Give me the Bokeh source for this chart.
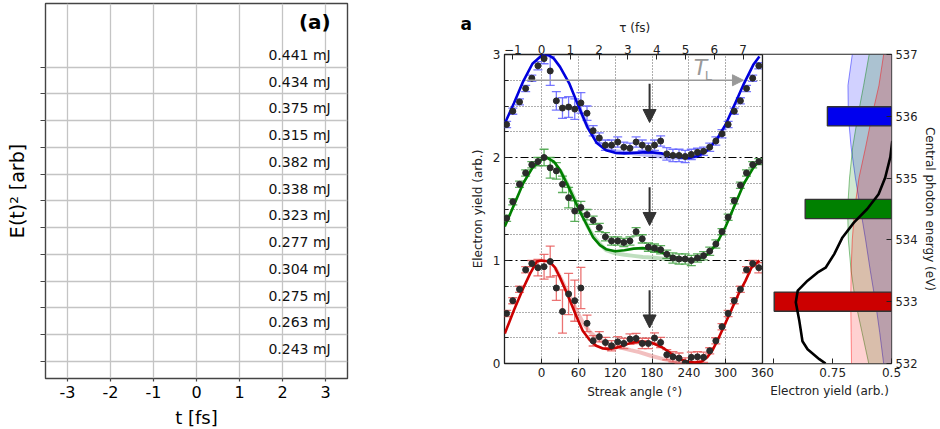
from bokeh.plotting import figure
from bokeh.layouts import row, column
from bokeh.models import (Range1d, LinearAxis, FixedTicker, Label, Arrow, NormalHead,
                          Span, ColumnDataSource, Grid)
from bokeh.core.properties import value
from bokeh.embed import file_html
from bokeh.resources import INLINE

FONT = "DejaVu Sans"

# ---------------- panel (a) data ----------------
t_ticks = [-3, -2, -1, 0, 1, 2, 3]
t_tick_labels = ["-3", "-2", "-1", "0", "1", "2", "3"]
pulse_energies = ["0.441 mJ", "0.434 mJ", "0.375 mJ", "0.315 mJ", "0.382 mJ", "0.338 mJ",
                  "0.323 mJ", "0.277 mJ", "0.304 mJ", "0.275 mJ", "0.263 mJ", "0.243 mJ"]
trace_offsets = [11, 10, 9, 8, 7, 6, 5, 4, 3, 2, 1, 0]

# ---------------- streaking panel data ----------------
angle_ticks = [0, 60, 120, 180, 240, 300, 360]
tau_ticks = [-1, 0, 1, 2, 3, 4, 5, 6, 7]
tau_tick_labels = ["\u22121", "0", "1", "2", "3", "4", "5", "6", "7"]
T_L = 7.676  # fs per 360 degrees
yield_ticks = [0.60, 0.75, 0.90]
yield_tick_labels = ["", "0.75", "0.5"]
energy_ticks = [532, 533, 534, 535, 536, 537]

ang = [-57, -47, -36, -26, -16, -6, 4, 14, 24, 34, 44, 54, 64, 74, 84, 94, 104, 114, 124, 134, 144,
       154, 164, 174, 184, 194, 204, 214, 224, 234, 244, 254, 264, 274, 284, 294, 304, 314, 324, 334, 344, 354]

blue_y = [2.32, 2.45, 2.54, 2.67, 2.77, 2.89, 2.96, 2.84, 2.55, 2.48, 2.49, 2.47, 2.53, 2.43, 2.26, 2.19,
          2.12, 2.12, 2.15, 2.10, 2.09, 2.15, 2.12, 2.09, 2.12, 2.16, 2.035, 2.02, 2.02, 2.01, 2.03, 2.05,
          2.06, 2.10, 2.16, 2.23, 2.32, 2.45, 2.55, 2.67, 2.77, 2.89]
blue_err = [0.03, 0.03, 0.03, 0.03, 0.03, 0.04, 0.05, 0.14, 0.09, 0.10, 0.10, 0.10, 0.10, 0.07, 0.05, 0.05,
            0.05, 0.05, 0.05, 0.05, 0.05, 0.05, 0.05, 0.05, 0.05, 0.05, 0.06, 0.06, 0.06, 0.06, 0.05, 0.04,
            0.04, 0.04, 0.04, 0.04, 0.03, 0.03, 0.03, 0.03, 0.03, 0.03]
green_y = [1.41, 1.57, 1.74, 1.85, 1.93, 1.96, 2.00, 1.90, 1.87, 1.74, 1.61, 1.48, 1.515, 1.445, 1.39, 1.32,
           1.23, 1.19, 1.19, 1.175, 1.19, 1.28, 1.21, 1.13, 1.12, 1.105, 1.06, 1.025, 1.015, 1.015, 1.00,
           1.025, 1.047, 1.09, 1.16, 1.28, 1.42, 1.58, 1.73, 1.85, 1.93, 1.96]
green_err = [0.03, 0.03, 0.03, 0.03, 0.03, 0.04, 0.08, 0.10, 0.08, 0.08, 0.10, 0.10, 0.06, 0.05, 0.04, 0.04,
             0.04, 0.04, 0.04, 0.04, 0.04, 0.04, 0.04, 0.04, 0.04, 0.04, 0.04, 0.05, 0.05, 0.05, 0.05, 0.04,
             0.04, 0.04, 0.04, 0.03, 0.03, 0.03, 0.03, 0.03, 0.03, 0.03]
red_y = [0.486, 0.61, 0.72, 0.91, 0.97, 0.93, 0.94, 0.99, 0.733, 0.505, 0.675, 0.61, 0.733, 0.39, 0.22, 0.26,
         0.204, 0.172, 0.21, 0.195, 0.237, 0.243, 0.195, 0.195, 0.247, 0.204, 0.085, 0.065, 0.052, 0.005,
         0.06, 0.065, 0.06, 0.123, 0.22, 0.357, 0.486, 0.61, 0.72, 0.91, 0.97, 0.93]
red_err = [0.03, 0.03, 0.03, 0.03, 0.03, 0.08, 0.12, 0.15, 0.12, 0.21, 0.20, 0.20, 0.20, 0.08, 0.05, 0.05,
           0.05, 0.05, 0.05, 0.05, 0.05, 0.05, 0.05, 0.05, 0.05, 0.05, 0.05, 0.05, 0.05, 0.05, 0.05, 0.05,
           0.05, 0.03, 0.03, 0.03, 0.03, 0.03, 0.03, 0.03, 0.03, 0.05]

blue_model_ang = [-60, -45, -30, -15, 0, 10, 20, 30, 45, 60, 75, 90, 105, 120, 135, 150, 165, 180, 195, 210,
                  225, 240, 255, 270, 285, 300, 315, 330, 345, 355]
blue_model_y = [2.33, 2.53, 2.74, 2.91, 2.99, 3.00, 2.96, 2.88, 2.72, 2.50, 2.29, 2.14, 2.07, 2.045, 2.04,
                2.045, 2.05, 2.05, 2.04, 2.02, 2.0, 1.995, 2.015, 2.07, 2.17, 2.32, 2.52, 2.72, 2.90, 2.98]
blue_faint_ang = [60, 75, 90, 105, 120, 135, 150, 165, 180, 195, 210, 225, 240, 255, 270]
blue_faint_y = [2.50, 2.30, 2.16, 2.09, 2.06, 2.05, 2.04, 2.03, 2.02, 2.01, 2.0, 1.995, 1.995, 2.015, 2.07]

green_model_ang = [-60, -45, -30, -15, 0, 8, 20, 30, 45, 62, 75, 84, 95, 105, 120, 135, 150, 165, 180, 195,
                   210, 225, 245, 258, 270, 285, 300, 315, 330, 345, 355]
green_model_y = [1.33, 1.54, 1.75, 1.90, 1.98, 2.00, 1.96, 1.88, 1.70, 1.48, 1.33, 1.225, 1.15, 1.11, 1.09,
                 1.10, 1.115, 1.12, 1.11, 1.08, 1.045, 1.02, 1.005, 1.02, 1.06, 1.16, 1.33, 1.54, 1.75, 1.90, 1.97]
green_faint_ang = [30, 45, 62, 75, 84, 95, 105, 120, 135, 150, 165, 180, 195, 210, 225, 245, 258]
green_faint_y = [1.88, 1.71, 1.50, 1.33, 1.24, 1.16, 1.10, 1.07, 1.055, 1.045, 1.035, 1.03, 1.02, 1.01, 1.005,
                 1.0, 1.02]

red_model_ang = [-60, -45, -30, -19, -8, 0, 13, 22, 30, 40, 48.5, 58, 67, 78, 89, 100, 110, 121, 132, 145,
                 159, 170, 178, 188, 197, 208, 218, 229, 240, 250, 261, 270, 278, 288, 299, 310, 321, 332, 342, 355]
red_model_y = [0.29, 0.52, 0.73, 0.87, 0.99, 1.0, 0.99, 0.93, 0.835, 0.70, 0.577, 0.44, 0.318, 0.23, 0.172,
               0.145, 0.14, 0.15, 0.172, 0.20, 0.214, 0.21, 0.204, 0.18, 0.155, 0.11, 0.065, 0.035, 0.017,
               0.01, 0.02, 0.06, 0.123, 0.24, 0.383, 0.53, 0.675, 0.80, 0.93, 1.0]
red_faint_ang = [22, 30, 40, 48.5, 58, 67, 78, 89, 100, 110, 121, 132, 145, 159, 178, 197, 218, 240, 250, 261]
red_faint_y = [0.93, 0.84, 0.72, 0.62, 0.50, 0.40, 0.31, 0.25, 0.21, 0.185, 0.165, 0.15, 0.13, 0.11, 0.075,
               0.045, 0.02, 0.01, 0.01, 0.02]

# downward arrows (angle, top, bottom)
arrow_ang = [176, 176, 176]
arrow_top = [2.715, 1.71, 0.71]
arrow_bottom = [2.34, 1.34, 0.345]

# right panel: central photon energy vs electron yield
bar_energy = [536.0, 534.5, 533.0]
bar_yield = [0.7366, 0.680, 0.601]
bar_colors = ["#0000ee", "#008000", "#cc0000"]

band_E = [537, 536.5, 536, 535.5, 535, 534.5, 534, 533.5, 533, 532.5, 532]
band_blue = [0.800, 0.789, 0.790, 0.797, 0.808, 0.821, 0.834, 0.846, 0.859, 0.870, 0.880]
band_green = [0.843, 0.829, 0.814, 0.801, 0.793, 0.788, 0.790, 0.797, 0.808, 0.825, 0.842]
band_red = [0.880, 0.868, 0.850, 0.834, 0.817, 0.806, 0.800, 0.797, 0.796, 0.797, 0.798]

curve_E = [532.0, 532.07, 532.23, 532.36, 532.69, 532.99, 533.18, 533.34, 533.47, 533.55, 533.77, 534.04,
           534.28, 534.50, 534.74, 535.01, 535.34, 535.6]
curve_yield = [0.732, 0.716, 0.686, 0.673, 0.665, 0.656, 0.661, 0.686, 0.711, 0.732, 0.754, 0.775, 0.804,
               0.838, 0.867, 0.884, 0.897, 0.902]


def strip(fig):
    fig.outline_line_color = None
    fig.min_border = 0
    fig.background_fill_color = "white"
    fig.border_fill_color = "white"
    fig.frame_align = False
    return fig


# =================== figure (a) ===================
TX0, TX1, TY0, TY1 = -3.51, 3.51, -0.636, 13.38
P1_L, P1_R, P1_T, P1_B, P1_W, P1_H = 45, 108, 3, 27, 455, 405
p1 = figure(width=P1_W, height=P1_H, x_range=Range1d(TX0, TX1), y_range=Range1d(TY0, TY1),
            output_backend="svg", toolbar_location=None, title=None,
            min_border_left=P1_L, min_border_right=P1_R, min_border_top=P1_T, min_border_bottom=P1_B)
p1.frame_align = False
p1.outline_line_color = "#444444"
p1.outline_line_width = 1.4
p1.xaxis.ticker = FixedTicker(ticks=t_ticks)
p1.xaxis.major_label_overrides = {t: l for t, l in zip(t_ticks, t_tick_labels)}
p1.yaxis.ticker = FixedTicker(ticks=trace_offsets)
p1.yaxis.major_label_overrides = {o: "" for o in trace_offsets}
for ax in (p1.xaxis[0], p1.yaxis[0]):
    ax.axis_line_color = None
    ax.minor_tick_line_color = None
    ax.major_tick_line_color = "#444444"
    ax.major_tick_line_width = 1.2
    ax.major_tick_in = 0
    ax.major_tick_out = 5
    ax.major_label_text_font = FONT
    ax.major_label_text_font_size = "16px"
    ax.major_label_text_color = "black"
    ax.axis_label_text_font = FONT
    ax.axis_label_text_font_style = "normal"
    ax.axis_label_text_font_size = "19px"
    ax.axis_label_text_color = "black"
p1.xaxis.major_tick_out = 3
p1.xaxis.major_label_standoff = 4
p1.yaxis.axis_label = "E(t)\u00b2 [arb]"
p1.yaxis.axis_label_standoff = 13
p1.yaxis.major_label_standoff = 0
for g in (p1.xgrid[0], p1.ygrid[0]):
    g.grid_line_color = "#c4c4c4"
    g.grid_line_width = 1.3
p1.text(x=[3.12] * len(trace_offsets), y=[o + 0.46 for o in trace_offsets], text=pulse_energies,
        text_align="right", text_baseline="middle", text_font=value(FONT), text_font_size="14px",
        text_color="#111111")
p1.add_layout(Label(x=3.12, y=12.67, text="(a)", text_align="right", text_baseline="middle",
                    text_font=FONT, text_font_size="20px", text_font_style="bold", text_color="black"))

# footer of (a): continues the scales of panel (a)
tx_pp = (TX1 - TX0) / (P1_W - P1_L - P1_R)
ty_pp = (TY1 - TY0) / (P1_H - P1_T - P1_B)
F1_H = 429 - P1_H
f1 = strip(figure(width=P1_W, height=F1_H, x_axis_type=None, y_axis_type=None,
                  x_range=Range1d(TX0 - P1_L * tx_pp, TX1 + P1_R * tx_pp),
                  y_range=Range1d(TY0 - (P1_B + F1_H) * ty_pp, TY0 - P1_B * ty_pp),
                  output_backend="svg", toolbar_location=None, title=None))
f1.add_layout(Label(x=0, y=TY0 - (P1_B + F1_H / 2) * ty_pp, text="t [fs]", text_align="center",
                    text_baseline="middle", text_font=FONT, text_font_size="18px", text_color="black"))

# =================== streaking figure ===================
X0, X1 = -60.5, 570.3
Y0, Y1 = -0.0866, 0.90
E0, E1 = 532, 537
P2_L, P2_R, P2_T, P2_B, P2_W, P2_H = 49, 46, 20, 20, 485, 349
H2_H = 34
F2_H = 429 - H2_H - P2_H
p2 = figure(width=P2_W, height=P2_H, x_range=Range1d(X0, X1), y_range=Range1d(0, 3),
            output_backend="svg", toolbar_location=None, title=None,
            min_border_left=P2_L, min_border_right=P2_R, min_border_top=P2_T, min_border_bottom=P2_B)
p2.frame_align = False
p2.extra_x_ranges = {"tau": Range1d(X0 * T_L / 360, X1 * T_L / 360), "yield": Range1d(Y0, Y1)}
p2.extra_y_ranges = {"E": Range1d(E0, E1)}
p2.outline_line_color = "#222222"
p2.outline_line_width = 1.3

panel_left = Y1 - (Y1 - Y0) * (X1 - 360) / (X1 - X0)


def conv(v):
    return round(X0 + (v - Y0) * (X1 - X0) / (Y1 - Y0), 4)


bottom_ticks = angle_ticks + [conv(v) for v in yield_ticks]
bottom_over = {a: str(a) for a in angle_ticks}
bottom_over.update({conv(v): l for v, l in zip(yield_ticks, yield_tick_labels)})

xa = p2.below[0]
xa.ticker = FixedTicker(ticks=bottom_ticks)
xa.major_label_overrides = bottom_over
ya = p2.left[0]
ya.ticker = FixedTicker(ticks=[0, 1, 2, 3], minor_ticks=[0.25, 0.5, 0.75, 1.25, 1.5, 1.75, 2.25, 2.5, 2.75])
ya.axis_label = "Electron yield (arb.)"
ta = LinearAxis(x_range_name="tau", ticker=FixedTicker(ticks=tau_ticks),
                major_label_overrides={t: l for t, l in zip(tau_ticks, tau_tick_labels)})
ea = LinearAxis(y_range_name="E", ticker=FixedTicker(ticks=energy_ticks),
                axis_label="Central photon energy (eV)")
p2.add_layout(ta, "above")
p2.add_layout(ea, "right")
for ax in (xa, ya, ta, ea):
    ax.axis_line_color = None
    ax.major_tick_in = 5
    ax.major_tick_out = 0
    ax.minor_tick_in = 4
    ax.minor_tick_out = 0
    ax.major_tick_line_color = "#222222"
    ax.minor_tick_line_color = "#222222"
    ax.major_label_text_font = FONT
    ax.major_label_text_font_size = "12px"
    ax.major_label_text_color = "#222222"
    ax.axis_label_text_font = FONT
    ax.axis_label_text_font_style = "normal"
    ax.axis_label_text_font_size = "12px"
    ax.axis_label_text_color = "#222222"
    ax.major_label_standoff = 4
ea.major_label_text_font_size = "11.5px"
ta.major_label_standoff = 1
xa.minor_tick_line_color = None
ta.minor_tick_line_color = None
ea.minor_tick_line_color = None
ya.axis_label_standoff = 5
ea.axis_label_standoff = 3

p2.xgrid.ticker = FixedTicker(ticks=[0, 60, 120, 180, 240, 300])
p2.xgrid.grid_line_color = "#333333"
p2.xgrid.grid_line_dash = "1 2"
p2.xgrid.grid_line_width = 0.8
p2.ygrid.ticker = FixedTicker(ticks=[0.25, 0.5, 0.75, 1.25, 1.5, 1.75, 2.25, 2.5, 2.75])
p2.ygrid.grid_line_color = "#333333"
p2.ygrid.grid_line_dash = "1 2"
p2.ygrid.grid_line_width = 0.8
p2.add_layout(Grid(dimension=1, ticker=FixedTicker(ticks=[1, 2]), grid_line_color="black",
                   grid_line_dash="8 3 2 3", grid_line_width=1.1))

# --- streaking traces ---
series = [
    (blue_y, blue_err, blue_model_ang, blue_model_y, blue_faint_ang, blue_faint_y, "#0000dd", "#6060ff"),
    (green_y, green_err, green_model_ang, green_model_y, green_faint_ang, green_faint_y, "#008000", "#40a040"),
    (red_y, red_err, red_model_ang, red_model_y, red_faint_ang, red_faint_y, "#cc0000", "#e85a5a"),
]
for yv, ev, mang, my, fang, fy, col, ecol in series:
    p2.line(fang, fy, line_color=col, line_width=4, line_alpha=0.25)
    lo = [v - e for v, e in zip(yv, ev)]
    hi = [v + e for v, e in zip(yv, ev)]
    p2.segment(x0=ang, y0=lo, x1=ang, y1=hi, line_color=ecol, line_width=1.3, line_alpha=0.85)
    p2.scatter(x=ang + ang, y=lo + hi, marker="dash", size=9, line_color=ecol, line_width=1.3,
               line_alpha=0.85)
    p2.line(mang, my, line_color=col, line_width=2.6)
    p2.scatter(x=ang, y=yv, size=6, fill_color="#2b2b2b", line_color="#2b2b2b")

arrow_src = ColumnDataSource(dict(x=arrow_ang, y0=arrow_top, y1=arrow_bottom))
p2.add_layout(Arrow(source=arrow_src, x_start="x", y_start="y0", x_end="x", y_end="y1",
                    line_color="#333333", line_width=2,
                    end=NormalHead(size=13, fill_color="#333333", line_color="#333333")))
p2.add_layout(Arrow(x_start=-24, y_start=2.75, x_end=329, y_end=2.75, line_color="#999999",
                    line_width=1.5, end=NormalHead(size=11, fill_color="#999999", line_color="#999999")))
p2.add_layout(Label(x=259, y=2.877, text="T", text_align="center", text_baseline="middle",
                    text_font=FONT, text_font_size="22px", text_font_style="italic", text_color="#999999"))
p2.add_layout(Label(x=272, y=2.80, text="L", text_align="center", text_baseline="middle",
                    text_font=FONT, text_font_size="13px", text_color="#999999"))

# --- right panel (photon energy) ---
p2.quad(left=[panel_left], right=[Y1], bottom=[E0], top=[E1], fill_color="white", line_color=None,
        x_range_name="yield", y_range_name="E")
for bx, fc in ((band_blue, "#0000ff"), (band_green, "#008000"), (band_red, "#ff0000")):
    p2.harea(x1=bx, x2=[Y1] * len(bx), y=band_E, fill_color=fc, fill_alpha=0.18,
             x_range_name="yield", y_range_name="E")
    p2.line(bx, band_E, line_color=fc, line_alpha=0.45, line_width=1,
            x_range_name="yield", y_range_name="E")
p2.quad(left=bar_yield, right=[Y1] * 3, bottom=[e - 0.155 for e in bar_energy],
        top=[e + 0.155 for e in bar_energy], fill_color=bar_colors, line_color="#333333", line_width=1.4,
        x_range_name="yield", y_range_name="E")
p2.line(curve_yield, curve_E, line_color="black", line_width=2.6, x_range_name="yield", y_range_name="E")
p2.add_layout(Span(location=360, dimension="height", line_color="#222222", line_width=1.3))

# --- header / footer strips continuing the scales of the streaking figure ---
x_pp = (X1 - X0) / (P2_W - P2_L - P2_R)
yl_pp = (Y1 - Y0) / (P2_W - P2_L - P2_R)
y_pp = 3.0 / (P2_H - P2_T - P2_B)
e_pp = (E1 - E0) / (P2_H - P2_T - P2_B)

h2 = strip(figure(width=P2_W, height=H2_H, x_axis_type=None, y_axis_type=None,
                  x_range=Range1d(X0 - P2_L * x_pp, X1 + P2_R * x_pp),
                  y_range=Range1d(3 + P2_T * y_pp, 3 + (P2_T + H2_H) * y_pp),
                  output_backend="svg", toolbar_location=None, title=None))
h2.add_layout(Label(x=-122.4, y=3.30, text="a", text_align="center", text_baseline="middle",
                    text_font=FONT, text_font_size="17px", text_font_style="bold", text_color="black"))
h2.add_layout(Label(x=150, y=3.253, text="\u03c4 (fs)", text_align="center", text_baseline="middle",
                    text_font=FONT, text_font_size="12px", text_color="#222222"))

f2 = strip(figure(width=P2_W, height=F2_H, x_axis_type=None, y_axis_type=None,
                  x_range=Range1d(X0 - P2_L * x_pp, X1 + P2_R * x_pp),
                  y_range=Range1d(-(P2_B + F2_H) * y_pp, -P2_B * y_pp),
                  output_backend="svg", toolbar_location=None, title=None))
f2.extra_x_ranges = {"yield": Range1d(Y0 - P2_L * yl_pp, Y1 + P2_R * yl_pp)}
f2.extra_y_ranges = {"E": Range1d(E0 - (P2_B + F2_H) * e_pp, E0 - P2_B * e_pp)}
f2.add_layout(Label(x=150, y=-0.275, text="Streak angle (\u00b0)", text_align="center",
                    text_baseline="middle", text_font=FONT, text_font_size="12px", text_color="#222222"))
f2.add_layout(Label(x=(panel_left + Y1) / 2, y=531.55, text="Electron yield (arb.)", text_align="center",
                    text_baseline="middle", text_font=FONT, text_font_size="12px", text_color="#222222",
                    x_range_name="yield", y_range_name="E"))

layout = row(column(p1, f1), column(h2, p2, f2))
open("out.html", "w").write(file_html(layout, INLINE))
